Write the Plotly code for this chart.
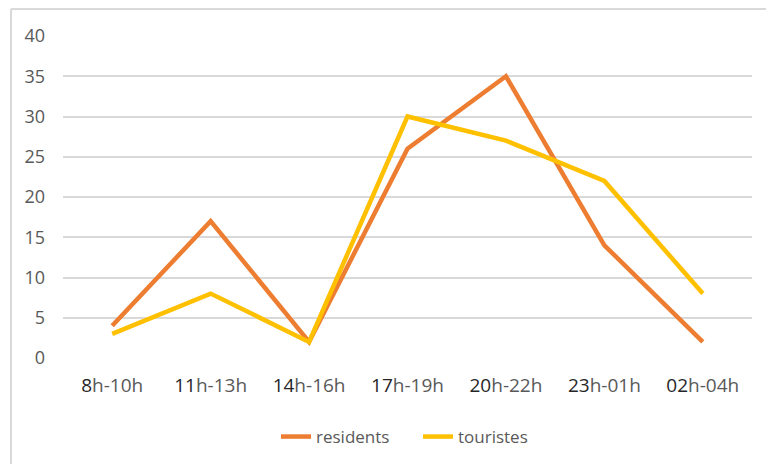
import plotly.graph_objects as go

categories_start = ["8", "11", "14", "17", "20", "23", "02"]
categories_rest = ["h-10h", "h-13h", "h-16h", "h-19h", "h-22h", "h-01h", "h-04h"]
residents = [4, 17, 2, 26, 35, 14, 2]
touristes = [3, 8, 2, 30, 27, 22, 8]
y_ticks = [0, 5, 10, 15, 20, 25, 30, 35, 40]

categories = [f"<span style='color:#262626'>{a}</span>{b}" for a, b in zip(categories_start, categories_rest)]

FONT = "Open Sans, Noto Sans, sans-serif"

fig = go.Figure()
fig.add_trace(go.Scatter(x=categories, y=residents, mode="lines", name="residents",
                         line=dict(color="#ED7D31", width=4.5)))
fig.add_trace(go.Scatter(x=categories, y=touristes, mode="lines", name="touristes",
                         line=dict(color="#FFC000", width=4.5)))

ml, mr, mt, mb = 63, 14, 36, 106
W, H = 766, 464
pw, ph = W - ml - mr, H - mt - mb

def px(x):
    return (x - ml) / pw

def py(y):
    return (H - mb - y) / ph

fig.update_layout(
    width=W, height=H,
    margin=dict(l=ml, r=mr, t=mt, b=mb, autoexpand=False),
    paper_bgcolor="white", plot_bgcolor="white",
    font=dict(family=FONT, color="#595959", size=16),
    hovermode=False,
    showlegend=True,
    legend=dict(orientation="h", x=px(418), xanchor="center", y=py(437), yanchor="middle",
                font=dict(size=17, color="#595959"), itemwidth=30, tracegroupgap=0,
                entrywidth=97, entrywidthmode="pixels"),
    xaxis=dict(range=[-0.5, len(categories) - 0.5], showgrid=False, showline=False, zeroline=False, ticks="",
               tickfont=dict(size=19, color="#595959"), ticklabelstandoff=14),
    yaxis=dict(range=[0, 40], tickvals=y_ticks, showgrid=True, gridcolor="#D9D9D9", gridwidth=1.5,
               zeroline=False, showline=False, ticks="", ticklabelstandoff=17,
               tickfont=dict(size=18, color="#595959")),
    shapes=[
        dict(type="line", xref="paper", yref="paper", x0=px(11), x1=px(11), y0=py(9), y1=py(470),
             line=dict(color="#D9D9D9", width=2)),
        dict(type="line", xref="paper", yref="paper", x0=px(11), x1=px(775), y0=py(9), y1=py(9),
             line=dict(color="#D9D9D9", width=2)),
    ],
)

fig.write_html("out.html", config={"displayModeBar": False},
               post_script="document.body.style.margin='0';")
